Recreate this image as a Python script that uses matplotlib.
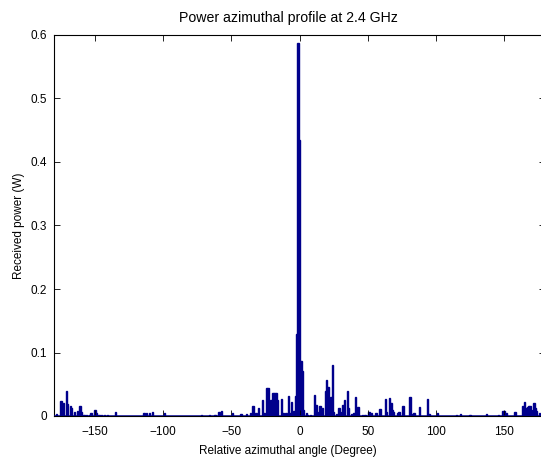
import matplotlib
matplotlib.use("Agg")
import matplotlib.pyplot as plt
import numpy as np

# angle bins (degree) that carry visible power, and the power in each (W)
angles = [-178, -175, -174, -173, -171, -170, -168, -167, -165, -163,
          -161, -160, -158, -156, -154, -153, -150, -149, -147, -145,
          -143, -141, -135, -114, -112, -110, -108, -99, -72, -66,
          -62, -59, -57, -49, -43, -39, -36, -34, -32, -30,
          -27, -26, -24, -23, -22, -21, -20, -19, -18, -17,
          -16, -13, -12, -10, -8, -7, -6, -4, -3, -2,
          -1, 0, 1, 2, 3, 5, 6, 8, 11, 12,
          14, 15, 17, 19, 20, 21, 23, 24, 25, 27,
          29, 30, 32, 33, 35, 36, 38, 40, 41, 43,
          46, 48, 51, 53, 56, 59, 63, 64, 66, 67,
          68, 69, 72, 73, 76, 81, 83, 84, 88, 94,
          95, 101, 115, 118, 125, 137, 146, 149, 150, 152,
          158, 164, 165, 166, 167, 168, 169, 170, 172, 173,
          174, 176]
power = [0.003, 0.023, 0.008, 0.021, 0.039, 0.019, 0.015, 0.013, 0.007, 0.008,
         0.015, 0.006, 0.002, 0.002, 0.002, 0.005, 0.010, 0.005, 0.002, 0.002,
         0.002, 0.002, 0.007, 0.004, 0.004, 0.004, 0.006, 0.005, 0.002, 0.002,
         0.002, 0.007, 0.008, 0.005, 0.003, 0.003, 0.005, 0.016, 0.004, 0.012,
         0.025, 0.005, 0.044, 0.044, 0.020, 0.025, 0.037, 0.037, 0.037, 0.037,
         0.025, 0.026, 0.004, 0.004, 0.031, 0.005, 0.022, 0.008, 0.032, 0.129,
         0.587, 0.434, 0.087, 0.071, 0.010, 0.005, 0.002, 0.002, 0.033, 0.018,
         0.006, 0.015, 0.012, 0.040, 0.057, 0.045, 0.030, 0.080, 0.006, 0.003,
         0.012, 0.006, 0.017, 0.025, 0.040, 0.012, 0.003, 0.005, 0.030, 0.014,
         0.002, 0.002, 0.007, 0.005, 0.004, 0.011, 0.027, 0.006, 0.028, 0.020,
         0.010, 0.006, 0.004, 0.006, 0.016, 0.030, 0.003, 0.004, 0.014, 0.026,
         0.003, 0.005, 0.002, 0.003, 0.002, 0.003, 0.002, 0.008, 0.008, 0.004,
         0.006, 0.015, 0.022, 0.012, 0.014, 0.016, 0.016, 0.009, 0.020, 0.012,
         0.008, 0.005]

x_ticks = [-150, -100, -50, 0, 50, 100, 150]
y_ticks = [0, 0.1, 0.2, 0.3, 0.4, 0.5, 0.6]
y_labels = ['0', '0.1', '0.2', '0.3', '0.4', '0.5', '0.6']

plt.rcParams['font.family'] = ['Liberation Sans', 'DejaVu Sans']
plt.rcParams['font.size'] = 8.5

bar_color = '#00008c'

fig = plt.figure(figsize=(5.41, 4.59), dpi=100)
ax = fig.add_axes([54 / 541, 43 / 459, 491 / 541, 381 / 459])

ax.bar(angles, power, width=1.0, color=bar_color, edgecolor=bar_color, linewidth=1.0)
ax.axhline(0, color=bar_color, linewidth=1.8, zorder=3)

ax.set_xlim(-180, 180)
ax.set_ylim(0, 0.6)
ax.set_xticks(x_ticks)
ax.set_yticks(y_ticks)
ax.set_yticklabels(y_labels)
ax.tick_params(direction='in', top=True, right=True, length=4, width=0.6)
ax.tick_params(axis='x', pad=7)
ax.tick_params(axis='y', pad=5)
for s in ax.spines.values():
    s.set_linewidth(0.8)

# title and x label sit a little left of the axes centre in the original
ax.set_title('Power azimuthal profile at 2.4 GHz', pad=9, x=0.477)
ax.set_xlabel('Relative azimuthal angle (Degree)', labelpad=5, x=0.477)
ax.set_ylabel('Received power (W)', labelpad=4)

fig.savefig('out.png', dpi=100)
